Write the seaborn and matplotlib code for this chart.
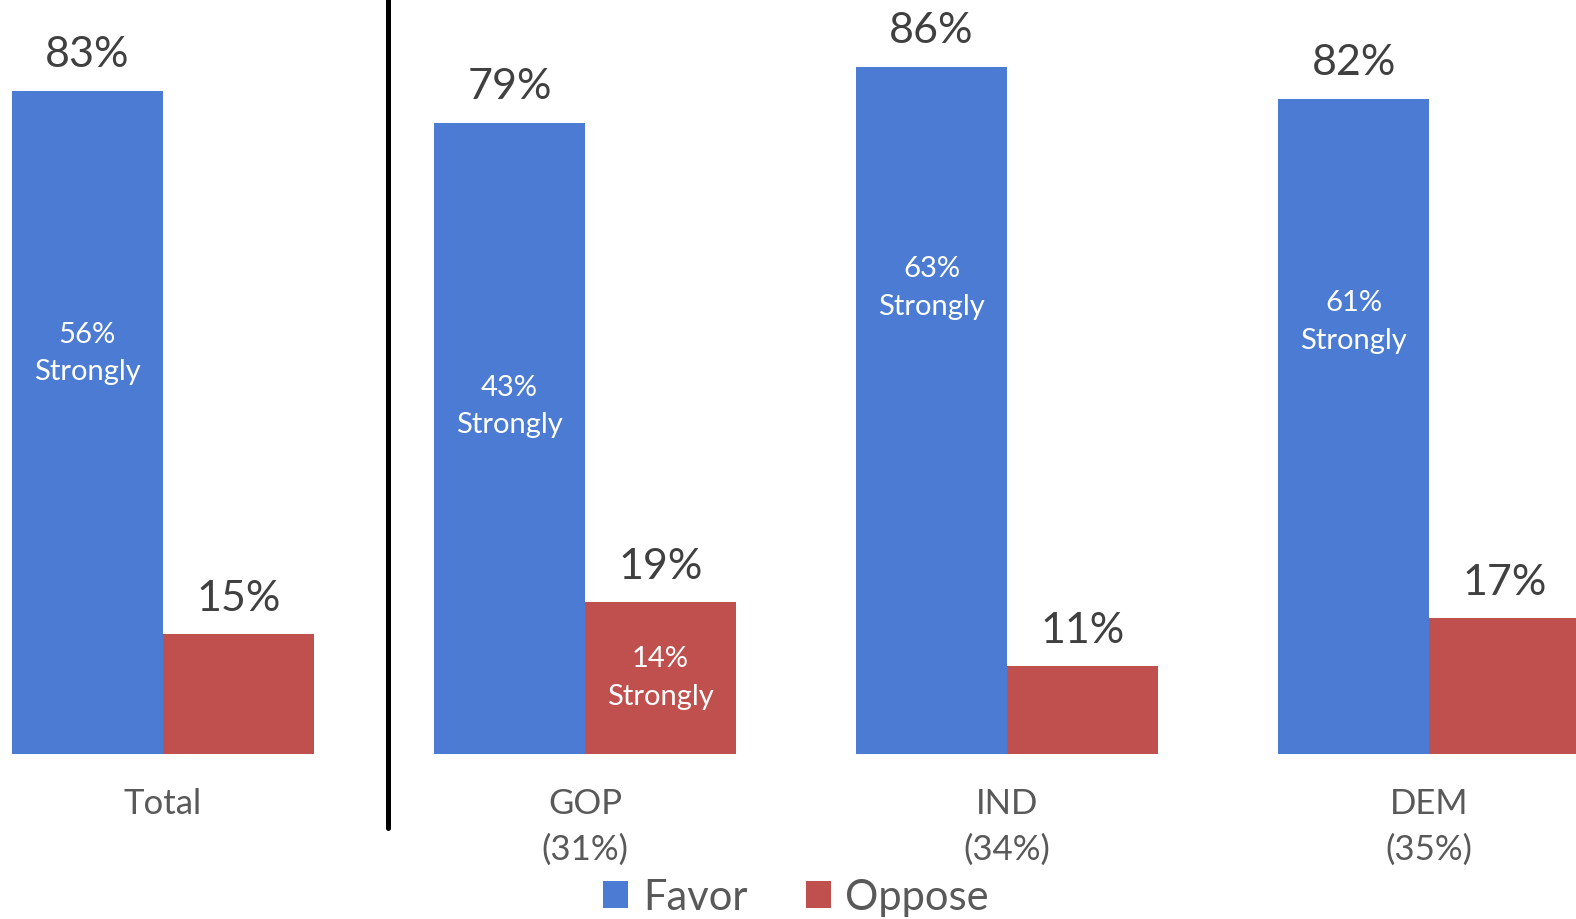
import pandas as pd
import numpy as np
import matplotlib
matplotlib.use("Agg")
import matplotlib.pyplot as plt
import seaborn as sns

# data
groups = ["Total", "GOP\n(31%)", "IND\n(34%)", "DEM\n(35%)"]
favor = [83, 79, 86, 82]
oppose = [15, 19, 11, 17]
favor_strong = [56, 43, 63, 61]
oppose_strong = [None, 14, None, None]

# where the "Strongly" notes sit (y, in % units)
favor_note_y = [50.2, 43.6, 58.4, 54.2]
oppose_note_y = [None, 9.6, None, None]

sns.set_style("white")
plt.rcParams["font.family"] = ["Lato", "DejaVu Sans"]

df = pd.DataFrame({
    "group": groups * 2,
    "response": ["Favor"] * 4 + ["Oppose"] * 4,
    "pct": favor + oppose,
})

fig = plt.figure(figsize=(15.76, 9.2), dpi=100)
ax = fig.add_axes([0, 165 / 920, 1, 755 / 920])

sns.barplot(data=df, x="group", y="pct", hue="response",
            palette={"Favor": "#4B7BD3", "Oppose": "#C0504D"},
            saturation=1, width=0.716, gap=0, edgecolor="none",
            legend=True, ax=ax)

ax.set_xlim(-0.386, 3.348)
ax.set_ylim(0, 94.45)
sns.despine(ax=ax, left=True, bottom=True)
ax.set_yticks([])
ax.set_xlabel("")
ax.set_ylabel("")
ax.tick_params(axis="x", length=0, pad=24, labelsize=25, labelcolor="#595959")
for lbl in ax.get_xticklabels():
    lbl.set_linespacing(1.5)

# big value labels above the bars
for cont in ax.containers:
    ax.bar_label(cont, labels=[f"{v:.0f}%" for v in cont.datavalues],
                 padding=12.5, fontsize=31, color="#404040")

# white "Strongly" notes inside the bars
fav_bars, opp_bars = ax.containers[0], ax.containers[1]
for bar, s, y in zip(fav_bars, favor_strong, favor_note_y):
    ax.text(bar.get_x() + bar.get_width() / 2, y, f"{s}%\nStrongly",
            ha="center", va="center", color="white", fontsize=21,
            linespacing=1.55)
for bar, s, y in zip(opp_bars, oppose_strong, oppose_note_y):
    if s is None:
        continue
    ax.text(bar.get_x() + bar.get_width() / 2, y, f"{s}%\nStrongly",
            ha="center", va="center", color="white", fontsize=21,
            linespacing=1.55)

# divider between Total and the party groups
ax.axvline(0.533, ymin=-0.098, ymax=1, color="black", lw=3.6, clip_on=False)

ax.get_legend().remove()
handles, labels = ax.get_legend_handles_labels()
fig.legend(handles, labels, loc="center", bbox_to_anchor=(796 / 1576, 1 - 898 / 920),
           ncol=2, frameon=False, fontsize=30, labelcolor="#595959",
           handlelength=0.6, handleheight=0.6, handletextpad=0.35,
           columnspacing=1.4)

fig.savefig("out.png", dpi=100)
